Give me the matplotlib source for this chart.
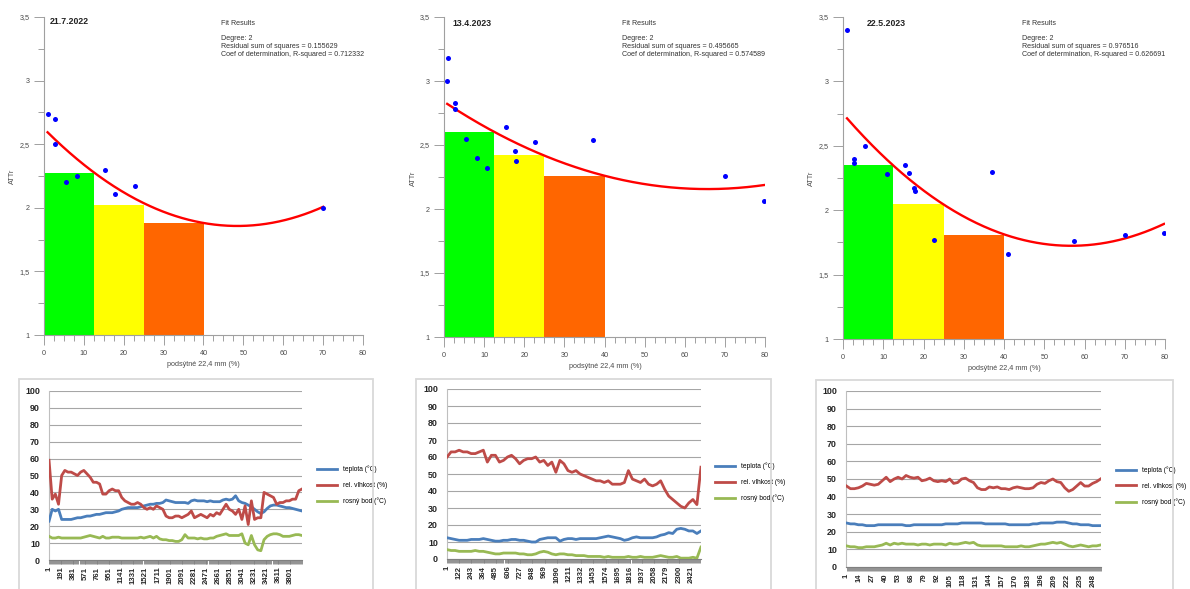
import numpy as np
import matplotlib
matplotlib.use('Agg')
import matplotlib.pyplot as plt
from matplotlib.patches import Rectangle
from matplotlib.ticker import MultipleLocator, FuncFormatter

plt.rcParams['font.family'] = ['Liberation Sans', 'DejaVu Sans']

# ---------------- data: top panels ----------------
dates = ['21.7.2022', '13.4.2023', '22.5.2023']
fit_rss = ['0.155629', '0.495665', '0.976516']
fit_r2 = ['0.712332', '0.574589', '0.626691']

bin_edges = [0, 12.5, 25, 40]
bars_1 = [2.27, 2.025, 1.88]
bars_2 = [2.60, 2.42, 2.26]
bars_3 = [2.35, 2.045, 1.81]

pts1_x = [0.9, 2.8, 2.8, 5.4, 8.2, 15.3, 17.9, 22.7, 70.0]
pts1_y = [2.74, 2.70, 2.50, 2.20, 2.25, 2.30, 2.11, 2.17, 2.00]
pts2_x = [1.0, 0.8, 2.8, 2.8, 5.4, 8.2, 10.8, 15.4, 17.7, 18.0, 22.7, 37.1, 70.1, 79.8]
pts2_y = [3.18, 3.00, 2.83, 2.78, 2.55, 2.40, 2.32, 2.64, 2.45, 2.375, 2.52, 2.54, 2.26, 2.065]
pts3_x = [1.0, 2.8, 2.8, 5.4, 10.95, 15.35, 16.3, 17.7, 18.0, 22.7, 37.1, 41.0, 57.3, 70.0, 79.75]
pts3_y = [3.40, 2.40, 2.37, 2.50, 2.28, 2.35, 2.29, 2.17, 2.15, 1.77, 2.30, 1.66, 1.76, 1.81, 1.82]

# ---------------- data: bottom panels ----------------
series_labels = ['teplota (°C)', 'rel. vlhkost (%)', 'rosný bod (°C)']

n4 = 3985
red4 = [59, 36, 39, 33, 50, 53, 52, 52, 51, 50,
        52, 53, 51, 49, 46, 46, 45, 39, 39, 41,
        42, 41, 41, 37, 35, 34, 33, 33, 34, 33,
        31, 30, 31, 30, 32, 31, 30, 26, 25, 25,
        26, 26, 25, 26, 27, 29, 25, 26, 27, 26,
        25, 27, 26, 28, 27, 30, 33, 30, 29, 27,
        30, 24, 32, 21, 35, 24, 25, 25, 40, 39,
        38, 37, 33, 34, 34, 35, 35, 36, 36, 41,
        42]
blue4 = [23, 30, 29, 30, 24, 24, 24, 24, 24.5, 25,
         25, 25.5, 26, 26, 26.5, 27, 27, 27.5, 28, 28,
         28, 28.5, 29, 30, 30.5, 31, 31, 31, 31, 31.5,
         32, 32.5, 33, 33, 33.5, 33.5, 34, 35.5, 35, 34.5,
         34, 34, 34, 34, 33.5, 35, 35.5, 35, 35, 35,
         34.5, 35, 34.5, 34.5, 34.5, 35.5, 36, 35.5, 36, 38,
         35, 34, 33.5, 32.5, 31.5, 30, 28.5, 27.5, 28.5, 30.5,
         32, 32.5, 32.5, 32, 31.5, 31, 31, 30.5, 30, 29.5,
         29]
green4 = [14, 13, 13, 13.5, 13, 13, 13, 13, 13, 13,
          13, 13.5, 14, 14.5, 14, 13.5, 13, 14, 13, 13,
          13.5, 13.5, 13.5, 13, 13, 13, 13, 13, 13, 13.5,
          13, 13.5, 14, 13, 14, 12.5, 12, 12, 11.5, 11.5,
          11, 11, 12, 15, 13, 13, 13, 12.5, 13, 12.5,
          12.5, 13, 13, 14, 14.5, 15, 15.5, 14.5, 14.5, 14.5,
          14.5, 15.5, 10, 9, 14.5, 9, 6, 5.5, 12, 14,
          15, 15.5, 15.5, 15, 14, 14, 14, 14.5, 15, 15,
          14.5]

n5 = 2520
red5 = [60, 63, 63, 64, 63, 63, 62, 62, 63, 64,
        57, 61, 61, 57, 58, 60, 61, 59, 56, 58,
        59, 59, 60, 57, 58, 55, 57, 51, 58, 56,
        52, 51, 52, 50, 49, 48, 47, 46, 46, 45,
        46, 44, 44, 44, 45, 52, 47, 46, 45, 47,
        44, 43, 44, 46, 41, 37, 35, 33, 31, 30,
        33, 35, 32, 54]
blue5 = [12.5, 12, 11.5, 11, 11, 11, 11.5, 11.5, 11.5, 12,
         11.5, 11, 10.5, 10.5, 11, 11, 11.5, 11.5, 11, 11,
         10.5, 10, 10, 11.5, 12, 12.5, 12.5, 12.5, 10.5, 11.5,
         12, 12, 11.5, 12, 12, 12, 12, 12, 12.5, 13,
         13.5, 13, 12.5, 12, 11, 11.5, 12.5, 13, 12.5, 12.5,
         12.5, 12.5, 13, 14, 14.5, 15.5, 15, 17.5, 18, 17.5,
         16.5, 16.5, 15, 16.5]
green5 = [5.5, 5, 5, 4.5, 4.5, 4.5, 4.5, 5, 4.5, 4.5,
          4, 3.5, 3, 3, 3.5, 3.5, 3.5, 3.5, 3, 3,
          2.5, 2.5, 3, 4, 4.5, 4, 3, 2.5, 3, 3,
          2.5, 2.5, 2, 2, 2, 1.5, 1.5, 1.5, 1.5, 1,
          1.5, 1, 1, 1, 1, 1.5, 1, 1, 1.5, 1,
          1, 1, 1.5, 2, 1.5, 1, 1, 1.5, 0.5, 0.5,
          0.5, 1, 0.5, 7]

n6 = 255
red6 = [46, 44.5, 44.5, 45, 46, 47.5, 47, 46.5, 47, 49,
        51, 48.5, 50, 51, 50, 52, 51, 50.5, 51, 49,
        49.5, 50.5, 49, 48.5, 49, 48.5, 50, 47.5, 48, 50,
        50.5, 49, 48, 45, 44, 44, 45.5, 45, 45.5, 44.5,
        44.5, 44, 45, 45.5, 45, 44.5, 44.5, 45, 47, 48,
        47.5, 49, 50, 48.5, 48, 45, 43, 44, 46, 48,
        46, 46, 47.5, 48.5, 50]
blue6 = [25, 24.5, 24.5, 24, 24, 23.5, 23.5, 23.5, 24, 24,
         24, 24, 24, 24, 24, 23.5, 23.5, 24, 24, 24,
         24, 24, 24, 24, 24, 24.5, 24.5, 24.5, 24.5, 25,
         25, 25, 25, 25, 25, 24.5, 24.5, 24.5, 24.5, 24.5,
         24.5, 24, 24, 24, 24, 24, 24, 24.5, 24.5, 25,
         25, 25, 25, 25.5, 25.5, 25.5, 25, 24.5, 24.5, 24,
         24, 24, 23.5, 23.5, 23.5]
green6 = [12, 11.5, 11.5, 11, 11, 11.5, 11.5, 11.5, 12, 12.5,
          13.5, 12.5, 13.5, 13, 13.5, 13, 13, 13, 12.5, 13,
          13, 12.5, 13, 13, 13, 12.5, 13.5, 13, 13, 13.5,
          14, 13.5, 14, 12.5, 12, 12, 12, 12, 12, 12,
          11.5, 11.5, 11.5, 11.5, 12, 11.5, 11.5, 12, 12.5, 13,
          13, 13.5, 14, 13.5, 14, 13, 12, 11.5, 12, 12.5,
          12, 11.5, 12, 12, 12.5]

# ---------------- layout helpers ----------------
W, H = 1190, 589
fig = plt.figure(figsize=(W / 100, H / 100), dpi=100)
fig.patch.set_facecolor('white')


def rect(x0, y0, x1, y1):
    return [x0 / W, 1 - y1 / H, (x1 - x0) / W, (y1 - y0) / H]


def fx(x):
    return x / W


def fy(y):
    return 1 - y / H


BAR_COLORS = ['#00FF00', '#FFFF00', '#FF6600']
AX_GRAY = '#A0A0A0'
TXT_GRAY = '#4a4a4a'


def comma_fmt(v, p):
    return ('%g' % v).replace('.', ',')


def top_panel(box, xs, ys, bars, date, rss, r2, date_pos, fit_pos, ylab_pos, xlab_pos):
    ax = fig.add_axes(rect(*box))
    ax.set_xlim(0, 80)
    ax.set_ylim(1, 3.5)
    lefts = bin_edges[:-1]
    widths = np.diff(bin_edges)
    ax.bar(lefts, np.array(bars) - 1, width=widths, bottom=1, align='edge',
           color=BAR_COLORS, linewidth=0, zorder=1)
    coef = np.polyfit(xs, ys, 2)
    xf = np.linspace(min(xs), max(xs), 300)
    ax.plot(xf, np.polyval(coef, xf), color='#FF0000', lw=1.7, zorder=3)
    ax.scatter(xs, ys, s=13, color='#0000FF', linewidths=0, zorder=4)
    for s in ['top', 'right']:
        ax.spines[s].set_visible(False)
    for s in ['left', 'bottom']:
        ax.spines[s].set_color(AX_GRAY)
        ax.spines[s].set_linewidth(0.8)
    ax.xaxis.set_major_locator(MultipleLocator(10))
    ax.xaxis.set_minor_locator(MultipleLocator(2.5))
    ax.yaxis.set_major_locator(MultipleLocator(0.5))
    ax.yaxis.set_minor_locator(MultipleLocator(0.25))
    ax.yaxis.set_major_formatter(FuncFormatter(comma_fmt))
    ax.tick_params(which='major', length=7.5, width=0.7, color=AX_GRAY,
                   labelsize=5.2, labelcolor=TXT_GRAY, pad=3)
    ax.tick_params(which='minor', length=4, width=0.7, color=AX_GRAY)
    ax.tick_params(axis='x', which='major', length=7, pad=4)
    fig.text(fx(date_pos[0]), fy(date_pos[1]), date, fontsize=6.3,
             fontweight='bold', color='#222222', va='center', ha='left')
    fig.text(fx(fit_pos[0]), fy(fit_pos[1]),
             'Fit Results\n\nDegree: 2\nResidual sum of squares = ' + rss +
             '\nCoef of determination, R-squared = ' + r2,
             fontsize=5.15, color='#333333', va='top', ha='left', linespacing=1.15)
    fig.text(fx(ylab_pos[0]), fy(ylab_pos[1]), 'ATTr', rotation=90, fontsize=5.2,
             color=TXT_GRAY, va='center', ha='center')
    fig.text(fx(xlab_pos[0]), fy(xlab_pos[1]), 'podsýtné 22,4 mm (%)', fontsize=5.2,
             color=TXT_GRAY, va='center', ha='center')
    return ax


top_panel((44, 17, 363, 335), pts1_x, pts1_y, bars_1, dates[0], fit_rss[0], fit_r2[0],
          (50, 22), (221, 20), (12, 176), (203, 364))
top_panel((444, 17, 765, 337), pts2_x, pts2_y, bars_2, dates[1], fit_rss[1], fit_r2[1],
          (452, 24), (622, 20), (413, 178), (605, 366))
top_panel((843, 17, 1165, 339), pts3_x, pts3_y, bars_3, dates[2], fit_rss[2], fit_r2[2],
          (867, 23), (1022, 20), (811, 178), (1004, 368))

SER_COLORS = ['#4A7EBB', '#BE4B48', '#98B954']


def bottom_panel(box, frame, N, label_step, minor_step, red, blue, green, leg_anchor):
    x0, y0, x1, y1 = frame
    fig.add_artist(Rectangle((fx(x0), fy(y1)), fx(x1) - fx(x0), fy(y0) - fy(y1),
                             transform=fig.transFigure, fill=False,
                             edgecolor='#D9D9D9', linewidth=1.3))
    ax = fig.add_axes(rect(*box))
    ax.set_xlim(0.5, N + 0.5)
    ax.set_ylim(0, 100)
    ax.set_yticks(np.arange(0, 101, 10))
    ax.yaxis.grid(True, color='#A6A6A6', lw=0.8)
    ax.set_axisbelow(True)
    handles = []
    for vals, col, lab in zip([blue, red, green], SER_COLORS, series_labels):
        xs = np.linspace(1, N, len(vals))
        h, = ax.plot(xs, vals, color=col, lw=2.0, label=lab, zorder=3,
                     solid_joinstyle='round')
        handles.append(h)
    ax.spines['top'].set_visible(False)
    ax.spines['right'].set_visible(False)
    ax.spines['left'].set_color('#BFBFBF')
    ax.spines['left'].set_linewidth(0.8)
    ax.spines['bottom'].set_color('#808080')
    ax.spines['bottom'].set_linewidth(0.8)
    ticks = np.arange(1, N + 1, label_step)
    ax.set_xticks(ticks)
    ax.set_xticklabels([str(t) for t in ticks], rotation=90, fontsize=5.6,
                       fontweight='bold', color='#262626')
    ax.set_xticks(np.arange(1, N + 1, minor_step), minor=True)
    ax.tick_params(axis='x', which='both', length=2.8, width=0.6, color='#808080',
                   pad=2)
    ax.tick_params(axis='y', length=0, pad=6.5, labelsize=6.4, labelcolor='#262626')
    for t in ax.get_yticklabels():
        t.set_fontweight('bold')
    ax.legend(handles=handles, loc='center left', bbox_to_anchor=leg_anchor,
              frameon=False, fontsize=4.8, handlelength=3.0, handletextpad=0.9,
              labelspacing=1.3, borderaxespad=0, borderpad=0)
    return ax


bottom_panel((49, 391, 302, 560), (19, 379, 373, 620), n4, 190, 16,
             red4, blue4, green4, (1.059, 0.44))
bottom_panel((447, 389, 701, 559), (416, 379, 771, 620), n5, 121, 10,
             red5, blue5, green5, (1.055, 0.45))
bottom_panel((846, 391, 1101, 567), (816, 380, 1173, 620), n6, 13, 1,
             red6, blue6, green6, (1.059, 0.46))

fig.savefig('out.png', dpi=100, facecolor='white')
